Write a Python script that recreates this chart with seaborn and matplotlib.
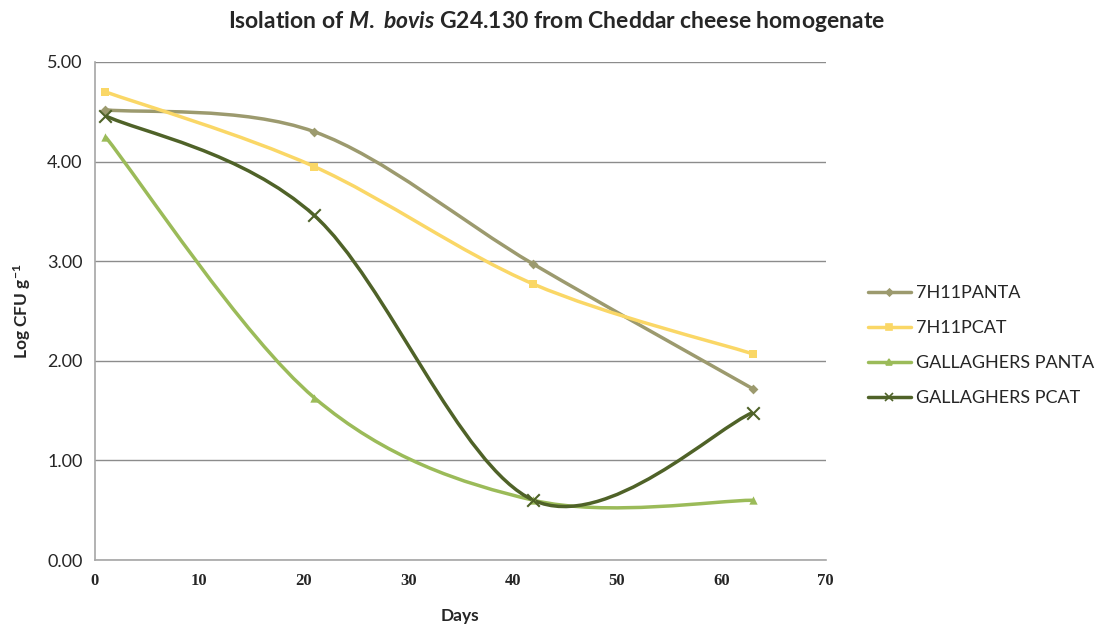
import numpy as np
import seaborn as sns
import matplotlib.pyplot as plt
from matplotlib.path import Path
from matplotlib.patches import PathPatch
from matplotlib.lines import Line2D

# Data
days = [1, 21, 42, 63]
panta_7h11 = [4.52, 4.30, 2.97, 1.72]
pcat_7h11 = [4.70, 3.95, 2.77, 2.07]
panta_gall = [4.25, 1.63, 0.60, 0.60]
pcat_gall = [4.46, 3.46, 0.60, 1.48]

series_names = ['7H11PANTA', '7H11PCAT', 'GALLAGHERS PANTA', 'GALLAGHERS PCAT']
series_values = [panta_7h11, pcat_7h11, panta_gall, pcat_gall]
colors = ['#9c9a6e', '#fad766', '#9bbb59', '#4f6228']
markers = ['D', 's', '^', 'x']
msizes = [5, 6, 6, 9]

sns.set_style("white")
plt.rcParams['font.family'] = ['Lato', 'DejaVu Sans']
plt.rcParams['mathtext.fontset'] = 'custom'
plt.rcParams['mathtext.rm'] = 'Lato:bold'
plt.rcParams['mathtext.it'] = 'Lato:bold:italic'
plt.rcParams['mathtext.default'] = 'rm'


def smooth_path(xs, ys):
    # Excel-style smoothed line: cubic Bezier segments (Catmull-Rom control points)
    pts = np.column_stack([xs, ys]).astype(float)
    n = len(pts)
    verts = [pts[0]]
    codes = [Path.MOVETO]
    for i in range(n - 1):
        p0 = pts[i - 1] if i > 0 else pts[i]
        p1 = pts[i]
        p2 = pts[i + 1]
        p3 = pts[i + 2] if i + 2 < n else pts[i + 1]
        c1 = p1 + (p2 - p0) / 6
        c2 = p2 - (p3 - p1) / 6
        verts += [c1, c2, p2]
        codes += [Path.CURVE4] * 3
    return Path(verts, codes)


fig = plt.figure(figsize=(10.99, 6.26), dpi=100)
ax = fig.add_axes([0.0864, 0.1054, 0.665, 0.7956])

handles = []
for name, vals, c, m, ms in zip(series_names, series_values, colors, markers, msizes):
    ax.add_patch(PathPatch(smooth_path(days, vals), facecolor='none', edgecolor=c, lw=2.5, zorder=3))
    sns.scatterplot(x=days, y=vals, ax=ax, color=c, marker=m, s=ms ** 2,
                    linewidth=1.5 if m == 'x' else 0, edgecolor=c, zorder=4, legend=False)
    handles.append(Line2D([0], [0], color=c, lw=2.5, marker=m, markersize=ms * 0.7,
                          markeredgewidth=1.2))

ax.set_xlim(0, 70)
ax.set_ylim(0, 5)
ax.set_xticks(range(0, 71, 10))
ax.set_yticks(np.arange(0, 5.01, 1))
ax.set_yticklabels(['%.2f' % v for v in np.arange(0, 5.01, 1)], fontsize=13)
ax.set_xticklabels([str(v) for v in range(0, 71, 10)], fontsize=12, fontweight='bold',
                   family='Liberation Serif')
ax.tick_params(axis='both', length=0, pad=9)
ax.yaxis.grid(True, color='#8c8c8c', lw=1)
ax.set_axisbelow(True)
for s in ['top', 'right']:
    ax.spines[s].set_visible(False)
for s in ['left', 'bottom']:
    ax.spines[s].set_color('#a6a6a6')
    ax.spines[s].set_linewidth(1.2)

ax.set_xlabel('Days', fontsize=12.5, fontweight='bold', labelpad=14)
ax.set_ylabel(r'Log CFU g$^{-1}$', fontsize=12.5, fontweight='bold', labelpad=10)
fig.suptitle(r'Isolation of $\mathit{M.\ bovis}$ G24.130 from Cheddar cheese homogenate',
             x=0.506, y=0.985, fontsize=16.5, fontweight='bold')

ax.legend(handles, series_names, loc='center left', bbox_to_anchor=(1.035, 0.43),
          frameon=False, fontsize=13, handlelength=2.4, handletextpad=0.3,
          labelspacing=1.05)

fig.savefig('out.png', dpi=100)
